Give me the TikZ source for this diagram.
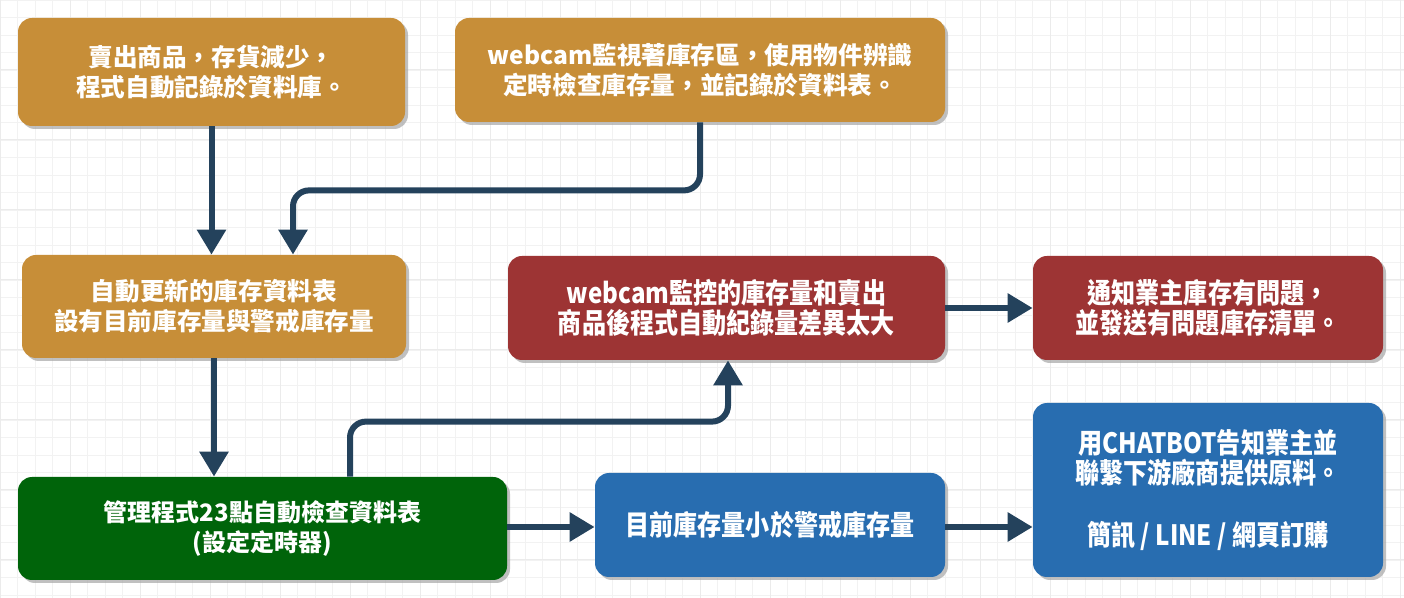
\documentclass[tikz,border=0pt]{standalone}
\usepackage{fontspec}
\newfontfamily\cjk{Noto Sans CJK TC}
\newfontfamily\cjknarrow{Noto Sans CJK TC}[FakeStretch=0.86]
\usepackage{xcolor}
\usepackage{tikz}
\usetikzlibrary{positioning,arrows.meta,shadows}

\definecolor{gold}{HTML}{C78E38}
\definecolor{wine}{HTML}{9D3434}
\definecolor{forest}{HTML}{00640A}
\definecolor{ocean}{HTML}{286DB0}
\definecolor{navy}{HTML}{24425C}

\begin{document}
\begin{tikzpicture}[
    x=0.5pt, y=-0.5pt,
    box/.style={rectangle, rounded corners=7pt, align=center, text=white,
        drop shadow={shadow xshift=1.5pt, shadow yshift=-1.5pt, fill=black!35, opacity=0.7}},
    goldbox/.style={box, fill=gold, font=\cjk\bfseries\fontsize{12.3}{15}\selectfont},
    greenbox/.style={box, fill=forest, font=\cjk\bfseries\fontsize{12}{15}\selectfont},
    redbox/.style={box, fill=wine, font=\cjknarrow\bfseries\fontsize{14}{15}\selectfont},
    bluebox/.style={box, fill=ocean, font=\cjknarrow\bfseries\fontsize{14}{15}\selectfont},
    link/.style={draw=navy, line width=3pt, rounded corners=8pt,
        -{Triangle[width=14pt, length=12.5pt]}}
]
\useasboundingbox (0,0) rectangle (1404,598);
\fill[white] (0,0) rectangle (1404,598);
\foreach \gx in {0,17.5,...,1404} \draw[black!5, line width=0.4pt] (\gx,0) -- (\gx,598);
\foreach \gy in {0,17.5,...,598} \draw[black!5, line width=0.4pt] (0,\gy) -- (1404,\gy);
\foreach \gx in {0,70,...,1404} \draw[black!8, line width=0.5pt] (\gx,0) -- (\gx,598);
\foreach \gy in {0,70,...,598} \draw[black!8, line width=0.5pt] (0,\gy) -- (1404,\gy);

\node[goldbox, minimum width=193.5pt, minimum height=54pt] (sold) at (211.5,72)
    {賣出商品，存貨減少，\\程式自動記錄於資料庫。};
\node[goldbox, minimum width=245pt, minimum height=52pt] (cam) at (700,70)
    {webcam監視著庫存區，使用物件辨識\\定時檢查庫存量，並記錄於資料表。};
\node[goldbox, minimum width=192pt, minimum height=51.5pt] (table) at (214,306.5)
    {自動更新的庫存資料表\\設有目前庫存量與警戒庫存量};
\node[greenbox, minimum width=244.5pt, minimum height=51.5pt] (timer) at (262.5,528.5)
    {管理程式23點自動檢查資料表\\(設定定時器)};
\node[redbox, minimum width=218.5pt, minimum height=52pt] (gap) at (726.5,308)
    {webcam監控的庫存量和賣出\\商品後程式自動紀錄量差異太大};
\node[redbox, minimum width=175pt, minimum height=52pt] (notify) at (1208,308)
    {通知業主庫存有問題，\\並發送有問題庫存清單。};
\node[bluebox, minimum width=175pt, minimum height=52pt] (low) at (770,525)
    {目前庫存量小於警戒庫存量};
\node[bluebox, minimum width=175pt, minimum height=87pt] (order) at (1208,490)
    {用CHATBOT告知業主並\\聯繫下游廠商提供原料。\\[16pt]簡訊 / LINE / 網頁訂購};

\draw[link] (sold.south) -- (sold.south |- table.north);
\draw[link] (cam.south) -- ++(0,68) -| ([xshift=39.5pt]table.north);
\draw[link] (table.south) -- (table.south |- timer.north);
\draw[link] ([xshift=43.75pt]timer.north) -- ++(0,-55) -| ([xshift=0.75pt]gap.south);
\draw[link] ([yshift=0.75pt]timer.east) -- ([yshift=0.75pt]timer.east -| low.west);
\draw[link] (gap.east) -- (notify.west);
\draw[link] ([yshift=-1pt]low.east) -- ([yshift=-1pt]low.east -| order.west);
\end{tikzpicture}
\end{document}
